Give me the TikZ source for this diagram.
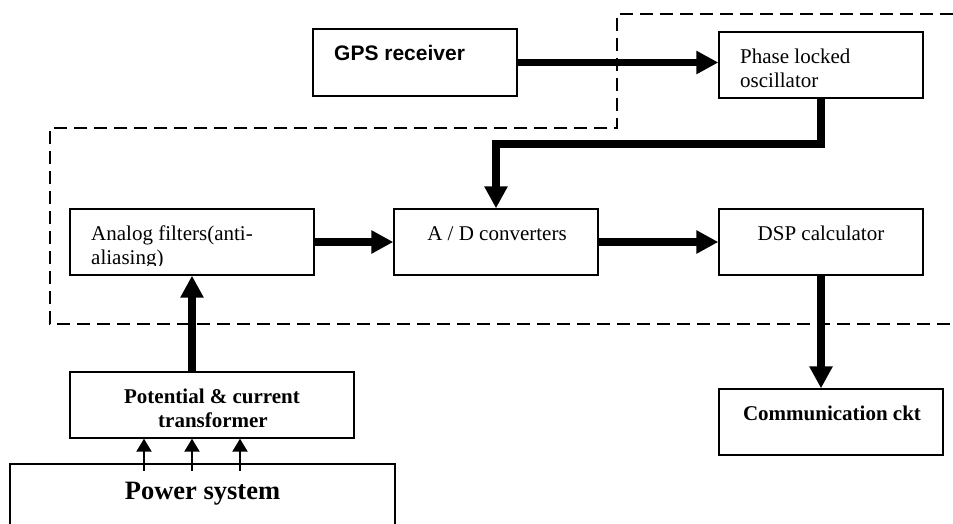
\documentclass[tikz,border=0pt]{standalone}
\usepackage{fontspec}
\setmainfont{Liberation Serif}
\newfontfamily\arialfont{Liberation Sans}
\usetikzlibrary{arrows.meta}
\begin{document}
\begin{tikzpicture}[x=1pt,y=-1pt,
  blk/.style={draw, line width=1.3pt, inner sep=0pt, minimum height=66pt},
  txt/.style={inner sep=0pt, anchor=base, font=\fontsize{21}{24}\selectfont},
  txtl/.style={txt, anchor=base west},
  btxt/.style={inner sep=0pt, anchor=base, font=\fontsize{21}{24}\selectfont\bfseries},
  flow/.style={line width=7.5pt, line join=miter, -{Triangle[length=22pt,width=22pt]}},
  tap/.style={line width=2pt, -{Triangle[length=13pt,width=15pt]}},
  zone/.style={dash pattern=on 13pt off 7pt, line width=1.3pt}]
\clip (0,0) rectangle (953,523);
\useasboundingbox (0,0) rectangle (953,523);

% dashed zone
\draw[zone] (953,14) -- (617,14) -- (617,128) -- (50,128) -- (50,324) -- (953,324);

% boxes
\node[blk, minimum width=204pt, minimum height=67pt] (gps) at (415,62.5) {};
\node[blk, minimum width=204pt] (plo) at (821,65) {};
\node[blk, minimum width=244pt] (af) at (192,242) {};
\node[blk, minimum width=204pt] (ad) at (496,242) {};
\node[blk, minimum width=204pt] (dsp) at (821,242) {};
\node[blk, minimum width=224pt] (comm) at (831,422) {};
\node[blk, minimum width=284pt] (pct) at (212,405) {};
\node[blk, minimum width=385pt, minimum height=100pt] (ps) at (202.5,514) {};

% texts
\node[txtl, font=\fontsize{21}{24}\selectfont\arialfont\bfseries] (tgps) at (334,60) {GPS receiver};
\node[txtl] (tplo1) at (740,63) {Phase locked};
\node[txtl] (tplo2) at (740,87) {oscillator};
\begin{scope}
  \clip (71,210) rectangle (313,265);
  \node[txtl] (taf1) at (91,240) {Analog filters(anti-};
  \node[txtl] (taf2) at (91,264) {aliasing)};
\end{scope}
\node[txt] (tad) at (497,240) {A / D converters};
\node[txt] (tdsp) at (821,240) {DSP calculator};
\node[btxt] (tcomm) at (832,420) {Communication ckt};
\node[btxt] (tpct1) at (212,403) {Potential \& current};
\node[btxt] (tpct2) at (213,427) {transformer};
\node[btxt, font=\fontsize{26.5}{30}\selectfont\bfseries] (tps) at (202.5,499) {Power system};

% connectors
\draw[flow] (gps.east) -- (gps.east -| plo.west);
\coordinate (kink) at (0,144);
\draw[flow] (plo.south) |- (kink -| ad.north) -- (ad.north);
\draw[flow] (af.east) -- (ad.west);
\draw[flow] (ad.east) -- (dsp.west);
\draw[flow] (dsp.south) -- (dsp.south |- comm.north);
\draw[flow] (af.south |- pct.north) -- (af.south);

\coordinate (t1) at (144,471);
\coordinate (t2) at (192,471);
\coordinate (t3) at (240,471);
\draw[tap] (t1) -- (t1 |- pct.south);
\draw[tap] (t2) -- (t2 |- pct.south);
\draw[tap] (t3) -- (t3 |- pct.south);
\end{tikzpicture}
\end{document}
